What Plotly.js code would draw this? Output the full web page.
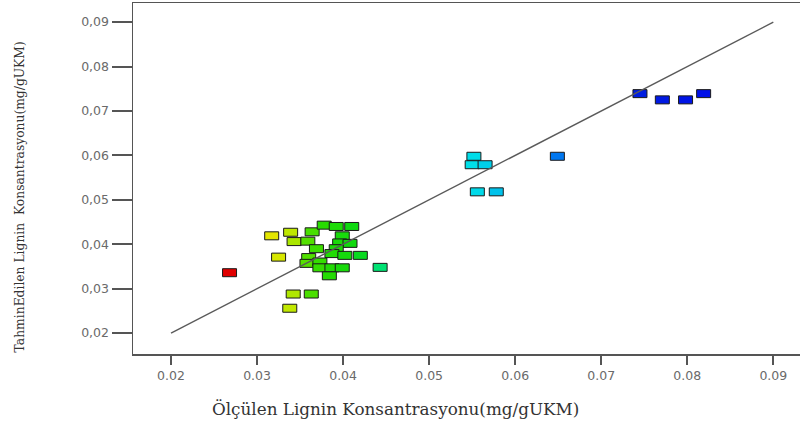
<!DOCTYPE html>
<html>
<head>
<meta charset="utf-8">
<script src="https://cdn.plot.ly/plotly-3.0.1.min.js"></script>
<style>html,body{margin:0;padding:0;background:#fff;}#chart{width:803px;height:423px;}</style>
</head>
<body>
<div id="chart"></div>
<script>
// Measured (x) and predicted (y) lignin concentrations, mg/g UKM
const measured = [
  0.0268,
  0.0317, 0.0325,
  0.0339, 0.0343, 0.0342, 0.0363, 0.0338,
  0.0364, 0.0359, 0.0378, 0.0392, 0.0410, 0.0399, 0.0369, 0.0396, 0.0408, 0.0392, 0.0387,
  0.0402, 0.0420, 0.0360, 0.0358, 0.0373, 0.0373, 0.0387, 0.0399, 0.0384, 0.0443,
  0.0552, 0.0550, 0.0565, 0.0556, 0.0578,
  0.0649,
  0.0745, 0.0771, 0.0798, 0.0819
];
const predicted = [
  0.0336,
  0.0419, 0.0371,
  0.0427, 0.0406, 0.0288, 0.0288, 0.0256,
  0.0428, 0.0407, 0.0443, 0.0440, 0.0440, 0.0419, 0.0390, 0.0403, 0.0402, 0.0390, 0.0379,
  0.0375, 0.0375, 0.0370, 0.0357, 0.0360, 0.0347, 0.0347, 0.0347, 0.0329, 0.0348,
  0.0598, 0.0579, 0.0579, 0.0518, 0.0518,
  0.0598,
  0.0739, 0.0725, 0.0725, 0.0739
];
const refLineX = [0.02, 0.09];
const refLineY = [0.02, 0.09];
const xTickVals = [0.02, 0.03, 0.04, 0.05, 0.06, 0.07, 0.08, 0.09];
const xTickText = ["0.02", "0.03", "0.04", "0.05", "0.06", "0.07", "0.08", "0.09"];
const yTickVals = [0.02, 0.03, 0.04, 0.05, 0.06, 0.07, 0.08, 0.09];
const yTickText = ["0,02", "0,03", "0,04", "0,05", "0,06", "0,07", "0,08", "0,09"];
const xTitle = "Ölçülen Lignin Konsantrasyonu(mg/gUKM)";
const yTitle = "TahminEdilen Lignin  Konsantrasyonu(mg/gUKM)";

// colour scale (style)
const cmin = 0.0268, cmax = 0.0819;
const stops = [
  [0.00, [224, 0, 0]],
  [0.085, [232, 230, 0]],
  [0.13, [190, 232, 0]],
  [0.16, [90, 224, 0]],
  [0.20, [40, 220, 0]],
  [0.27, [10, 216, 20]],
  [0.32, [0, 226, 120]],
  [0.50, [0, 230, 232]],
  [0.69, [0, 120, 240]],
  [0.86, [0, 30, 224]],
  [1.00, [0, 16, 232]]
];
function colorFor(v) {
  const t = Math.max(0, Math.min(1, (v - cmin) / (cmax - cmin)));
  for (let i = 1; i < stops.length; i++) {
    if (t <= stops[i][0]) {
      const a = stops[i - 1], b = stops[i];
      const f = (t - a[0]) / (b[0] - a[0]);
      const c = a[1].map((ca, k) => Math.round(ca + (b[1][k] - ca) * f));
      return 'rgb(' + c.join(',') + ')';
    }
  }
  return 'rgb(' + stops[stops.length - 1][1].join(',') + ')';
}
const pointColors = measured.map(colorFor);

// rectangular markers anchored at data coordinates
const shapes = measured.map((x, i) => ({
  type: 'rect', layer: 'below',
  xref: 'x', yref: 'y',
  xsizemode: 'pixel', ysizemode: 'pixel',
  xanchor: x, yanchor: predicted[i],
  x0: -7, x1: 7, y0: -4, y1: 4,
  fillcolor: pointColors[i],
  line: {color: '#1a1a1a', width: 1}
}));

const traces = [
  {
    type: 'scatter', mode: 'markers',
    x: measured, y: predicted,
    marker: {symbol: 'square', size: 8, color: pointColors, opacity: 0},
    hoverinfo: 'x+y', showlegend: false
  },
  {
    type: 'scatter', mode: 'lines',
    x: refLineX, y: refLineY,
    line: {color: '#5a5a5a', width: 1.4},
    hoverinfo: 'skip', showlegend: false
  }
];

const tickFont = {family: 'DejaVu Sans, sans-serif', size: 12.5, color: '#6a6a6a'};
const layout = {
  width: 803, height: 423,
  margin: {l: 133, r: 3, t: 3, b: 69},
  paper_bgcolor: '#ffffff', plot_bgcolor: '#ffffff',
  showlegend: false,
  xaxis: {
    range: [0.01558, 0.0931],
    tickvals: xTickVals, ticktext: xTickText,
    ticks: 'outside', ticklen: 9, tickwidth: 2, tickcolor: '#555',
    showline: true, mirror: true, linecolor: '#555', linewidth: 1.5,
    showgrid: false, zeroline: false,
    tickfont: tickFont
  },
  yaxis: {
    range: [0.0153, 0.0943],
    tickvals: yTickVals, ticktext: yTickText,
    ticks: 'outside', ticklen: 20, tickwidth: 2, tickcolor: '#555',
    showline: true, linecolor: '#555', linewidth: 1.5,
    showgrid: false, zeroline: false,
    tickfont: tickFont
  },
  shapes: shapes,
  annotations: [
    {
      text: xTitle, xref: 'paper', yref: 'paper',
      x: 0.394, y: -0.157, xanchor: 'center', yanchor: 'middle',
      showarrow: false,
      font: {family: 'DejaVu Serif, serif', size: 16.8, color: '#333'}
    },
    {
      text: yTitle, xref: 'paper', yref: 'paper',
      x: -0.169, y: 0.447, xanchor: 'center', yanchor: 'middle',
      textangle: -90, showarrow: false,
      font: {family: 'DejaVu Serif, serif', size: 12.3, color: '#333'}
    }
  ]
};

Plotly.newPlot('chart', traces, layout, {displayModeBar: false, staticPlot: true});
</script>
</body>
</html>
